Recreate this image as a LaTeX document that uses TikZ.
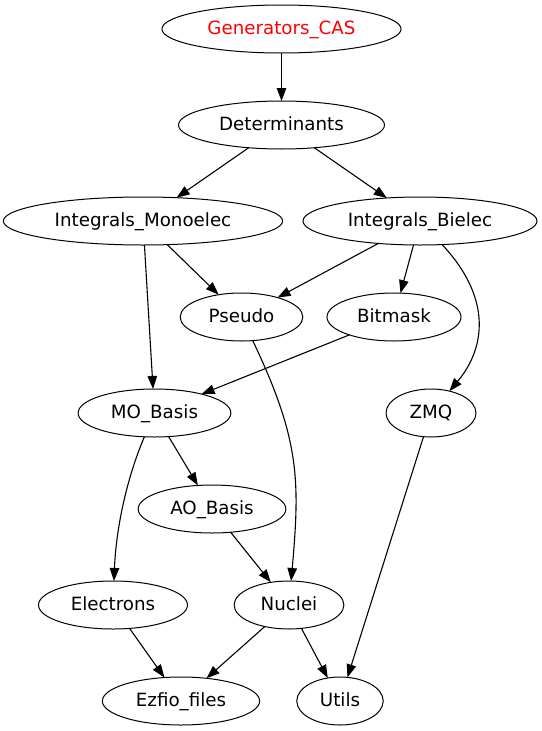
\documentclass[tikz,border=0pt]{standalone}
\usepackage{fontspec}
\setmainfont{DejaVu Sans}
\usepackage{tikz}
\usetikzlibrary{positioning, arrows.meta, shapes.geometric}

\begin{document}
\begin{tikzpicture}[
    x=1pt, y=-1pt,
    line width=1.1pt,
    >={Triangle[length=13pt, width=9.5pt]},
    module/.style={ellipse, draw, line width=1pt, outer sep=0pt, minimum height=48pt, inner xsep=10.5pt, inner ysep=3pt, text height=13.5pt, text depth=2.3pt, font=\fontsize{18.25}{22}\selectfont}
]
    \useasboundingbox (0,0) rectangle (541,731);
    % Top of the graph
    \node[module, text=red] (gen) at (281.5,29) {Generators\_CAS};
    \node[module, below=48pt of gen] (det) {Determinants};
    % Integrals
    \node[module, below=48pt of det, xshift=-138.5pt] (im) {Integrals\_Monoelec};
    \node[module, below=48pt of det, xshift=138.5pt] (ib) {Integrals\_Bielec};
    \node[module, below=48pt of im, xshift=98.5pt] (pseudo) {Pseudo};
    \node[module, below=48pt of ib, xshift=-26pt] (bitmask) {Bitmask};
    % Basis sets
    \node[module, below=48pt of pseudo, xshift=-87pt] (mo) {MO\_Basis};
    \node[module, below=48pt of bitmask, xshift=37pt] (zmq) {ZMQ};
    \node[module, below=48pt of mo, xshift=57.5pt] (ao) {AO\_Basis};
    \node[module, below=48pt of ao, xshift=-99pt] (electrons) {Electrons};
    \node[module, below=48pt of ao, xshift=77pt] (nuclei) {Nuclei};
    % Bottom of the graph
    \node[module, below=48pt of electrons, xshift=68pt] (ezfio) {Ezfio\_files};
    \node[module, below=48pt of nuclei, xshift=51pt] (utils) {Utils};
    % Dependencies
    \draw[->] (gen) -- (det);
    \draw[->] (det) -- (im);
    \draw[->] (det) -- (ib);
    \draw[->] (im) -- (pseudo);
    \draw[->] (im) -- (mo);
    \draw[->] (ib) -- (pseudo);
    \draw[->] (ib) -- (bitmask);
    \draw[->] (ib) .. controls (494,300) and (484,350) .. (zmq);
    \draw[->] (bitmask) -- (mo);
    \draw[->] (pseudo) .. controls (300,440) and (300,480) .. (nuclei);
    \draw[->] (mo) .. controls (126,480) and (116,530) .. (electrons);
    \draw[->] (mo) -- (ao);
    \draw[->] (ao) -- (nuclei);
    \draw[->] (zmq) -- (utils);
    \draw[->] (electrons) -- (ezfio);
    \draw[->] (nuclei) -- (ezfio);
    \draw[->] (nuclei) -- (utils);
\end{tikzpicture}
\end{document}
